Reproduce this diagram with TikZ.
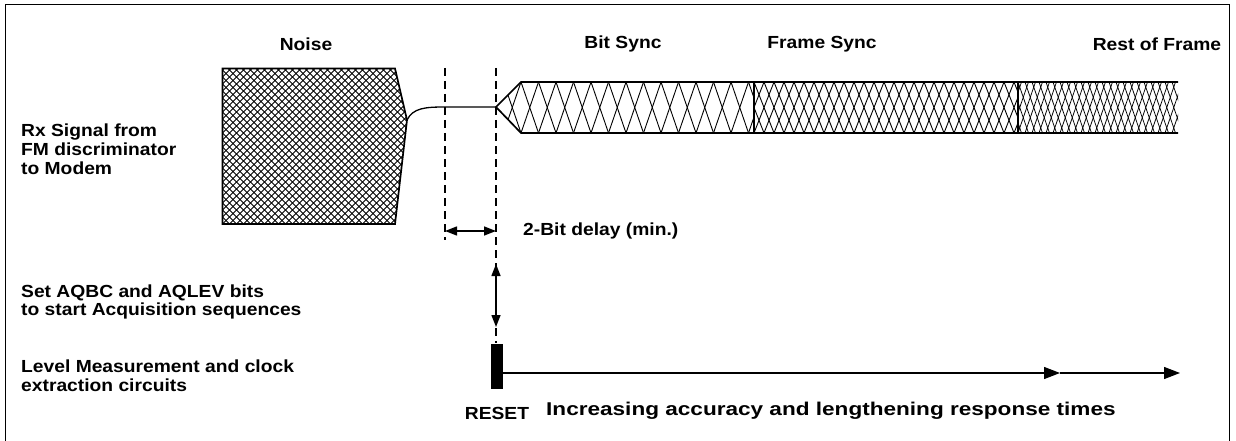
\documentclass[tikz,border=0pt]{standalone}
\usepackage{fontspec}
\setmainfont{Liberation Sans}[FakeStretch=1.1]
\newfontfamily\widefont{Liberation Sans}[FakeStretch=1.22]
\usetikzlibrary{arrows.meta}
\begin{document}
\begin{tikzpicture}[x=1pt,y=-1pt,
  lbl/.style={font=\bfseries\fontsize{17.5}{18.8}\selectfont, inner sep=0pt},
  lbll/.style={lbl, anchor=west, align=left},
  outline/.style={line width=1.7pt},
  hatch/.style={line width=0.85pt},
  dashv/.style={line width=1.4pt, dash pattern=on 8pt off 5pt},
  dblarrow/.style={line width=1.4pt, {Triangle[length=12pt,width=9pt]}-{Triangle[length=12pt,width=9pt]}},
  arr/.style={line width=1.3pt, -{Triangle[length=16pt,width=12pt]}}
]
\useasboundingbox (0,0) rectangle (1236,441);
\begin{scope}
\clip (0,0) rectangle (1236,441);
\draw[line width=1.2pt] (5.5,460) -- (5.5,4.5) -- (1229.5,4.5) -- (1229.5,460);
\end{scope}

% titles
\node[lbl] (tnoise) at (306,44) {Noise};
\node[lbl] (tbit) at (623,44) {Bit Sync};
\node[lbl] (tframe) at (822,44) {Frame Sync};
\node[lbl] (trest) at (1157,44) {Rest of Frame};

% left labels
\node[lbll] (rx) at (21,149) {Rx Signal from\\FM discriminator\\to Modem};
\node[lbll] (aq) at (21,302) {Set AQBC and AQLEV bits\\to start Acquisition sequences};
\node[lbll] (lev) at (21,376) {Level Measurement and clock\\extraction circuits};

% noise block
\begin{scope}
\clip (222.5,68.5) -- (395,68.5) -- (407,120) -- (395,224) -- (222.5,224) -- cycle;
\foreach \i in {-25,...,52} {
  \draw[hatch] ({222.5+\i*7},224) -- ++(160,-160);
  \draw[hatch] ({222.5+\i*7},224) -- ++(-160,-160);
}
\end{scope}
\draw[outline,line join=miter] (222.5,68.5) -- (395,68.5) -- (407,120) -- (395,224) -- (222.5,224) -- cycle;
\coordinate (ntip) at (407,120);

% bit sync
\begin{scope}
\clip (496,107) -- (521,82) -- (754,82) -- (754,133) -- (521,133) -- cycle;
\foreach \k in {-3,...,14} {
  \draw[line width=0.9pt] ({521+\k*17.5},82) -- ({521+(\k+1)*17.5},133);
  \draw[line width=0.9pt] ({521+(\k+1)*17.5},82) -- ({521+\k*17.5},133);
}
\end{scope}
% frame sync
\begin{scope}
\clip (754,82) rectangle (1018,133);
\foreach \k in {-3,...,27} {
  \draw[line width=0.9pt] ({754+\k*10},82) -- ({754+(\k+2)*10},133);
  \draw[line width=0.9pt] ({754+(\k+2)*10},82) -- ({754+\k*10},133);
}
\end{scope}
% rest of frame
\begin{scope}
\clip (1018,82) rectangle (1178,133);
\foreach \k in {-4,...,24} {
  \draw[line width=0.75pt] ({1018+\k*7},82) -- ({1018+(\k+2.5)*7},133);
  \draw[line width=0.75pt] ({1018+(\k+2.5)*7},82) -- ({1018+\k*7},133);
}
\end{scope}
\coordinate (btip) at (496,107);
\draw[outline,line join=miter] (1178,82) -- (521,82) -- (btip) -- (521,133) -- (1178,133);
\draw[outline] (754,82) -- (754,133);
\draw[outline] (1018,82) -- (1018,133);

% signal between
\coordinate (cmid) at (445,107);
\draw[line width=1.3pt] (ntip) .. controls (413,108) and (425,107) .. (cmid) -- (btip);

% dashed markers
\coordinate (da1) at (445,68);
\coordinate (da2) at (445,240);
\coordinate (db1) at (496,68);
\node[fill=black, minimum width=12pt, minimum height=45pt, inner sep=0pt] (reset) at (497,366) {};
\draw[dashv] (da1) -- (da2);
\draw[dashv] (db1) -- (reset.north -| db1);

% 2-bit delay
\coordinate (d1) at (445,231);
\coordinate (d2) at (496,231);
\draw[dblarrow] (d1) -- (d2);
\node[lbl, anchor=west] (delay) at (523,231) {2-Bit delay (min.)};

% acquisition arrow
\coordinate (v1) at (496,264);
\coordinate (v2) at (496,327);
\draw[dblarrow] (v1) -- (v2);

% reset & arrows
\node[lbl] (resett) at (497,413) {RESET};
\coordinate (m1) at (1060,373);
\coordinate (m2) at (1180,373);
\draw[arr] (reset.east |- m1) -- (m1);
\draw[arr] (m1) -- (m2);
\node[lbl, font=\widefont\bfseries\fontsize{18.5}{19.5}\selectfont, anchor=west] (incr) at (546,411) {Increasing accuracy and lengthening response times};
\end{tikzpicture}
\end{document}
